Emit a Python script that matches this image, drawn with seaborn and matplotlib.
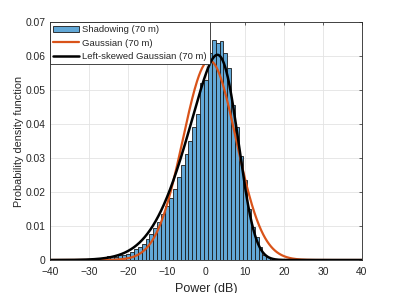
import math
import numpy as np
import pandas as pd
import matplotlib
matplotlib.use("Agg")
import matplotlib.pyplot as plt
import seaborn as sns

# histogram bins (1 dB wide, centred on integer dB) and densities
bin_centers = [-34, -31, -30, -29, -28, -27, -26, -25, -24, -23, -22, -21, -20,
               -19, -18, -17, -16, -15, -14, -13, -12, -11, -10, -9, -8, -7,
               -6, -5, -4, -3, -2, -1, 0, 1, 2, 3, 4, 5, 6, 7, 8, 9, 10, 11,
               12, 13, 14, 15, 16, 17, 18]
density = [0.0003, 0.0002, 0.0003, 0.0003, 0.0005, 0.0005, 0.0006, 0.0011, 0.0011,
           0.0009, 0.0015, 0.0016, 0.0019, 0.0024, 0.0031, 0.0039, 0.0048, 0.0061,
           0.0077, 0.0094, 0.0112, 0.0134, 0.0158, 0.0183, 0.0210, 0.0243, 0.0278,
           0.0312, 0.0350, 0.0390, 0.0428, 0.0520, 0.0528, 0.0610, 0.0647, 0.0638,
           0.0645, 0.0610, 0.0565, 0.0457, 0.0390, 0.0305, 0.0235, 0.0150, 0.0097,
           0.0068, 0.0038, 0.0015, 0.0009, 0.0006, 0.0002]

# fitted distributions (parameters)
gauss_mu, gauss_sigma = 0.9, 6.8
skew_loc, skew_scale, skew_alpha = 8.1, 10.9, -3.0

x_ticks = list(range(-40, 41, 10))
y_ticks = [0, 0.01, 0.02, 0.03, 0.04, 0.05, 0.06, 0.07]

sns.set_theme(style="whitegrid")
plt.rcParams["font.family"] = ["Liberation Sans", "DejaVu Sans"]

fig = plt.figure(figsize=(3.99, 2.93), dpi=100)
ax = fig.add_axes([0.1253, 0.1126, 0.7817, 0.8123])

hist_df = pd.DataFrame({"power": bin_centers, "density": density})
edges = [c - 0.5 for c in range(min(bin_centers), max(bin_centers) + 2)]
sns.histplot(data=hist_df, x="power", weights="density", bins=edges, stat="count",
             color="#62A8D7", alpha=1.0, edgecolor="#1a1a1a", linewidth=0.6,
             ax=ax, label="Shadowing (70 m)")

xs = np.linspace(-40, 40, 801)
gauss = np.exp(-0.5 * ((xs - gauss_mu) / gauss_sigma) ** 2) / (gauss_sigma * math.sqrt(2 * math.pi))
z = (xs - skew_loc) / skew_scale
cdf = 0.5 * (1 + np.vectorize(math.erf)(skew_alpha * z / math.sqrt(2)))
skew = 2 / skew_scale * np.exp(-0.5 * z ** 2) / math.sqrt(2 * math.pi) * cdf

sns.lineplot(x=xs, y=gauss, color="#D95319", linewidth=1.6, ax=ax, label="Gaussian (70 m)")
sns.lineplot(x=xs, y=skew, color="black", linewidth=1.8, ax=ax, label="Left-skewed Gaussian (70 m)")

ax.set_xlim(-40, 40)
ax.set_ylim(0, 0.07)
ax.set_xticks(x_ticks)
ax.set_yticks(y_ticks)
ax.set_yticklabels(["0"] + [f"{v:.2f}" for v in y_ticks[1:]])
ax.set_xlabel("Power (dB)", fontsize=9, color="#262626", labelpad=4)
ax.set_ylabel("Probability density function", fontsize=7.8, color="#262626", labelpad=1)
ax.tick_params(axis="both", labelsize=7.4, colors="#262626", direction="in",
               length=2.5, width=0.5, top=True, right=True)
ax.tick_params(axis="x", pad=5)
ax.tick_params(axis="y", pad=3)
ax.grid(True, color="#e3e3e3", linewidth=0.6)
for s in ax.spines.values():
    s.set_visible(True)
    s.set_color("#262626")
    s.set_linewidth(0.6)

# legend order as in the original: histogram first
handles, labels = ax.get_legend_handles_labels()
order = [labels.index(n) for n in ["Shadowing (70 m)", "Gaussian (70 m)", "Left-skewed Gaussian (70 m)"]]
leg = ax.legend([handles[i] for i in order], [labels[i] for i in order],
                loc="upper left", fontsize=6.8, fancybox=False, framealpha=1,
                edgecolor="#262626", borderaxespad=0, handlelength=2.7,
                handletextpad=0.35, borderpad=0.35, labelspacing=0.45)
leg.get_frame().set_linewidth(0.6)

fig.savefig("out.png", dpi=100)
